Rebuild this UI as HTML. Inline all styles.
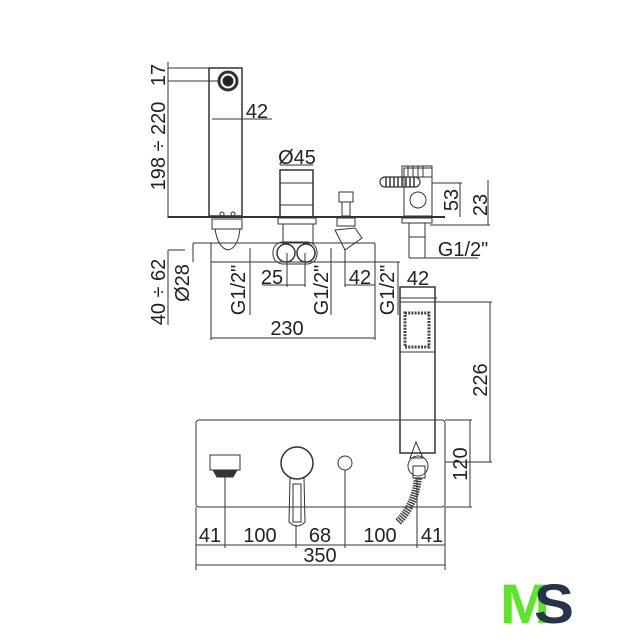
<!DOCTYPE html>
<html><head><style>body{margin:0;background:#fff}svg{display:block}text{font-family:"Liberation Sans",sans-serif;fill:#222}</style></head>
<body>
<svg width="640" height="640" viewBox="0 0 640 640" xmlns="http://www.w3.org/2000/svg">
<g fill="none" stroke="#333" stroke-width="1">
<rect x="209" y="68" width="33" height="148" stroke-width="1.5"/>
<circle cx="228" cy="81" r="9" stroke-width="3"/>
<circle cx="228" cy="81" r="5" fill="#222"/>
<line x1="168" y1="68" x2="209" y2="68"/><line x1="168" y1="81" x2="218" y2="81"/>
<line x1="168" y1="62" x2="168" y2="218"/>
<line x1="212" y1="119" x2="272" y2="119"/>
<circle cx="222" cy="214" r="2"/><circle cx="233" cy="214" r="2"/>
<line x1="168" y1="217" x2="445" y2="217" stroke-width="2"/>
<rect x="212" y="219" width="30" height="10"/>
<path d="M215 229 Q218 248 228 250 Q238 248 240 229"/>
<line x1="193" y1="243" x2="375" y2="243"/>
<line x1="211" y1="262" x2="400" y2="262"/>
<line x1="193" y1="243" x2="193" y2="262"/>
<line x1="211" y1="243" x2="211" y2="340"/>
<line x1="168" y1="250" x2="168" y2="325"/><line x1="168" y1="250" x2="185" y2="250"/>
<rect x="280" y="170" width="33" height="47" stroke-width="1.5"/>
<line x1="280" y1="183" x2="313" y2="183"/><line x1="280" y1="205" x2="313" y2="205"/>
<line x1="280" y1="165" x2="313" y2="165"/>
<rect x="278" y="218" width="38" height="6"/>
<rect x="283" y="224" width="30" height="19"/>
<rect x="273" y="242" width="44" height="22" rx="10"/>
<circle cx="286" cy="253" r="9" stroke-width="1.5"/><circle cx="306" cy="253" r="9" stroke-width="1.5"/>
<line x1="287" y1="253" x2="287" y2="287"/><line x1="305" y1="253" x2="305" y2="287"/>
<line x1="262" y1="285" x2="305" y2="285"/>
<line x1="250" y1="248" x2="250" y2="315"/><line x1="331" y1="248" x2="331" y2="315"/>
<rect x="339" y="192" width="14" height="10"/><rect x="342" y="202" width="8" height="14"/>
<rect x="337" y="218" width="18" height="8"/>
<path d="M335 230 L345 250 L362 238 L355 228 Z"/>
<line x1="345" y1="250" x2="345" y2="287"/><line x1="345" y1="285" x2="375" y2="285"/>
<line x1="375" y1="243" x2="375" y2="340"/>
<line x1="398" y1="262" x2="398" y2="315"/>
<line x1="211" y1="338" x2="375" y2="338"/>
<rect x="404" y="168" width="28" height="48"/>
<rect x="402" y="166" width="30" height="11"/>
<line x1="408" y1="166" x2="408" y2="177"/><line x1="413" y1="166" x2="413" y2="177"/><line x1="418" y1="166" x2="418" y2="177"/><line x1="423" y1="166" x2="423" y2="177"/>
<rect x="380" y="177" width="40" height="10" rx="5" stroke-width="1.2"/>
<path d="M386 177 v10 M390 177 v10 M394 177 v10 M398 177 v10 M402 177 v10 M406 177 v10 M410 177 v10 M414 177 v10" stroke-width="1.5"/>
<circle cx="418" cy="200" r="8"/>
<rect x="402" y="218" width="30" height="5"/>
<rect x="409" y="223" width="16" height="14"/>
<line x1="409" y1="237" x2="409" y2="258"/><line x1="425" y1="237" x2="425" y2="258"/>
<line x1="409" y1="258" x2="478" y2="258"/>
<line x1="432" y1="183" x2="462" y2="183"/><line x1="460" y1="183" x2="460" y2="217"/>
<line x1="430" y1="225" x2="490" y2="225"/><line x1="488" y1="180" x2="488" y2="225"/>
<rect x="400" y="287" width="35" height="166" stroke-width="1.5"/>
<line x1="400" y1="302" x2="435" y2="302"/><line x1="400" y1="352" x2="435" y2="352"/>
<rect x="405" y="313" width="24" height="34" stroke-dasharray="2 1.2" stroke-width="3" stroke="#444"/>
<line x1="435" y1="302" x2="492" y2="302"/><line x1="490" y1="302" x2="490" y2="462"/><line x1="445" y1="462" x2="492" y2="462"/>
<line x1="400" y1="298" x2="437" y2="298"/>
<rect x="196" y="420" width="249" height="87" rx="3"/>
<line x1="445" y1="420" x2="472" y2="420"/><line x1="445" y1="507" x2="472" y2="507"/><line x1="470" y1="420" x2="470" y2="507"/>
<rect x="210" y="455" width="30" height="15"/>
<path d="M213 470 L237 470 L233 477 L217 477 Z" fill="#333"/>
<circle cx="297" cy="463" r="16" stroke-width="1.5"/>
<path d="M290 478 L289 522 Q297 530 305 522 L304 478"/>
<rect x="293" y="484" width="8" height="38"/>
<circle cx="345" cy="463" r="7"/>
<path d="M416 442 L423 458 L410 458 Z"/>
<circle cx="418" cy="466" r="10"/>
<rect x="413" y="466" width="12" height="12"/>
<path d="M418 478 Q415 505 398 522" stroke-width="8" stroke="#444" stroke-dasharray="1.5 1"/>
<line x1="196" y1="507" x2="196" y2="570"/><line x1="445" y1="507" x2="445" y2="570"/>
<line x1="225" y1="475" x2="225" y2="548"/><line x1="296" y1="525" x2="296" y2="548"/>
<line x1="345" y1="470" x2="345" y2="548"/><line x1="417" y1="478" x2="417" y2="548"/>
<line x1="196" y1="545" x2="445" y2="545"/>
<line x1="196" y1="565" x2="445" y2="565"/>
</g>
<g font-size="20">
<text x="257" y="118" text-anchor="middle">42</text>
<text x="297" y="164" text-anchor="middle">Ø45</text>
<text x="272" y="284" text-anchor="middle">25</text>
<text x="360" y="284" text-anchor="middle">42</text>
<text x="287" y="335" text-anchor="middle">230</text>
<text x="463" y="256" text-anchor="middle">G1/2"</text>
<text x="418" y="285" text-anchor="middle">42</text>
<text x="210" y="542" text-anchor="middle">41</text>
<text x="260" y="542" text-anchor="middle">100</text>
<text x="320" y="542" text-anchor="middle">68</text>
<text x="380" y="542" text-anchor="middle">100</text>
<text x="432" y="542" text-anchor="middle">41</text>
<text x="320" y="562" text-anchor="middle">350</text>
<text transform="translate(165,75) rotate(-90)" text-anchor="middle">17</text>
<text transform="translate(165,146) rotate(-90)" text-anchor="middle">198 ÷ 220</text>
<text transform="translate(165,292) rotate(-90)" text-anchor="middle">40 ÷ 62</text>
<text transform="translate(189,283) rotate(-90)" text-anchor="middle">Ø28</text>
<text transform="translate(245,290) rotate(-90)" text-anchor="middle">G1/2"</text>
<text transform="translate(328,290) rotate(-90)" text-anchor="middle">G1/2"</text>
<text transform="translate(394,290) rotate(-90)" text-anchor="middle">G1/2"</text>
<text transform="translate(458,200) rotate(-90)" text-anchor="middle">53</text>
<text transform="translate(487,205) rotate(-90)" text-anchor="middle">23</text>
<text transform="translate(487,380) rotate(-90)" text-anchor="middle">226</text>
<text transform="translate(467,464) rotate(-90)" text-anchor="middle">120</text>
</g>
<text x="500" y="623" font-size="56" font-weight="bold" style="fill:#5ce52a" textLength="50" lengthAdjust="spacingAndGlyphs">M</text>
<text x="534" y="623" font-size="56" font-weight="bold" style="fill:#26344a" textLength="40" lengthAdjust="spacingAndGlyphs">S</text>
</svg>
</body></html>
